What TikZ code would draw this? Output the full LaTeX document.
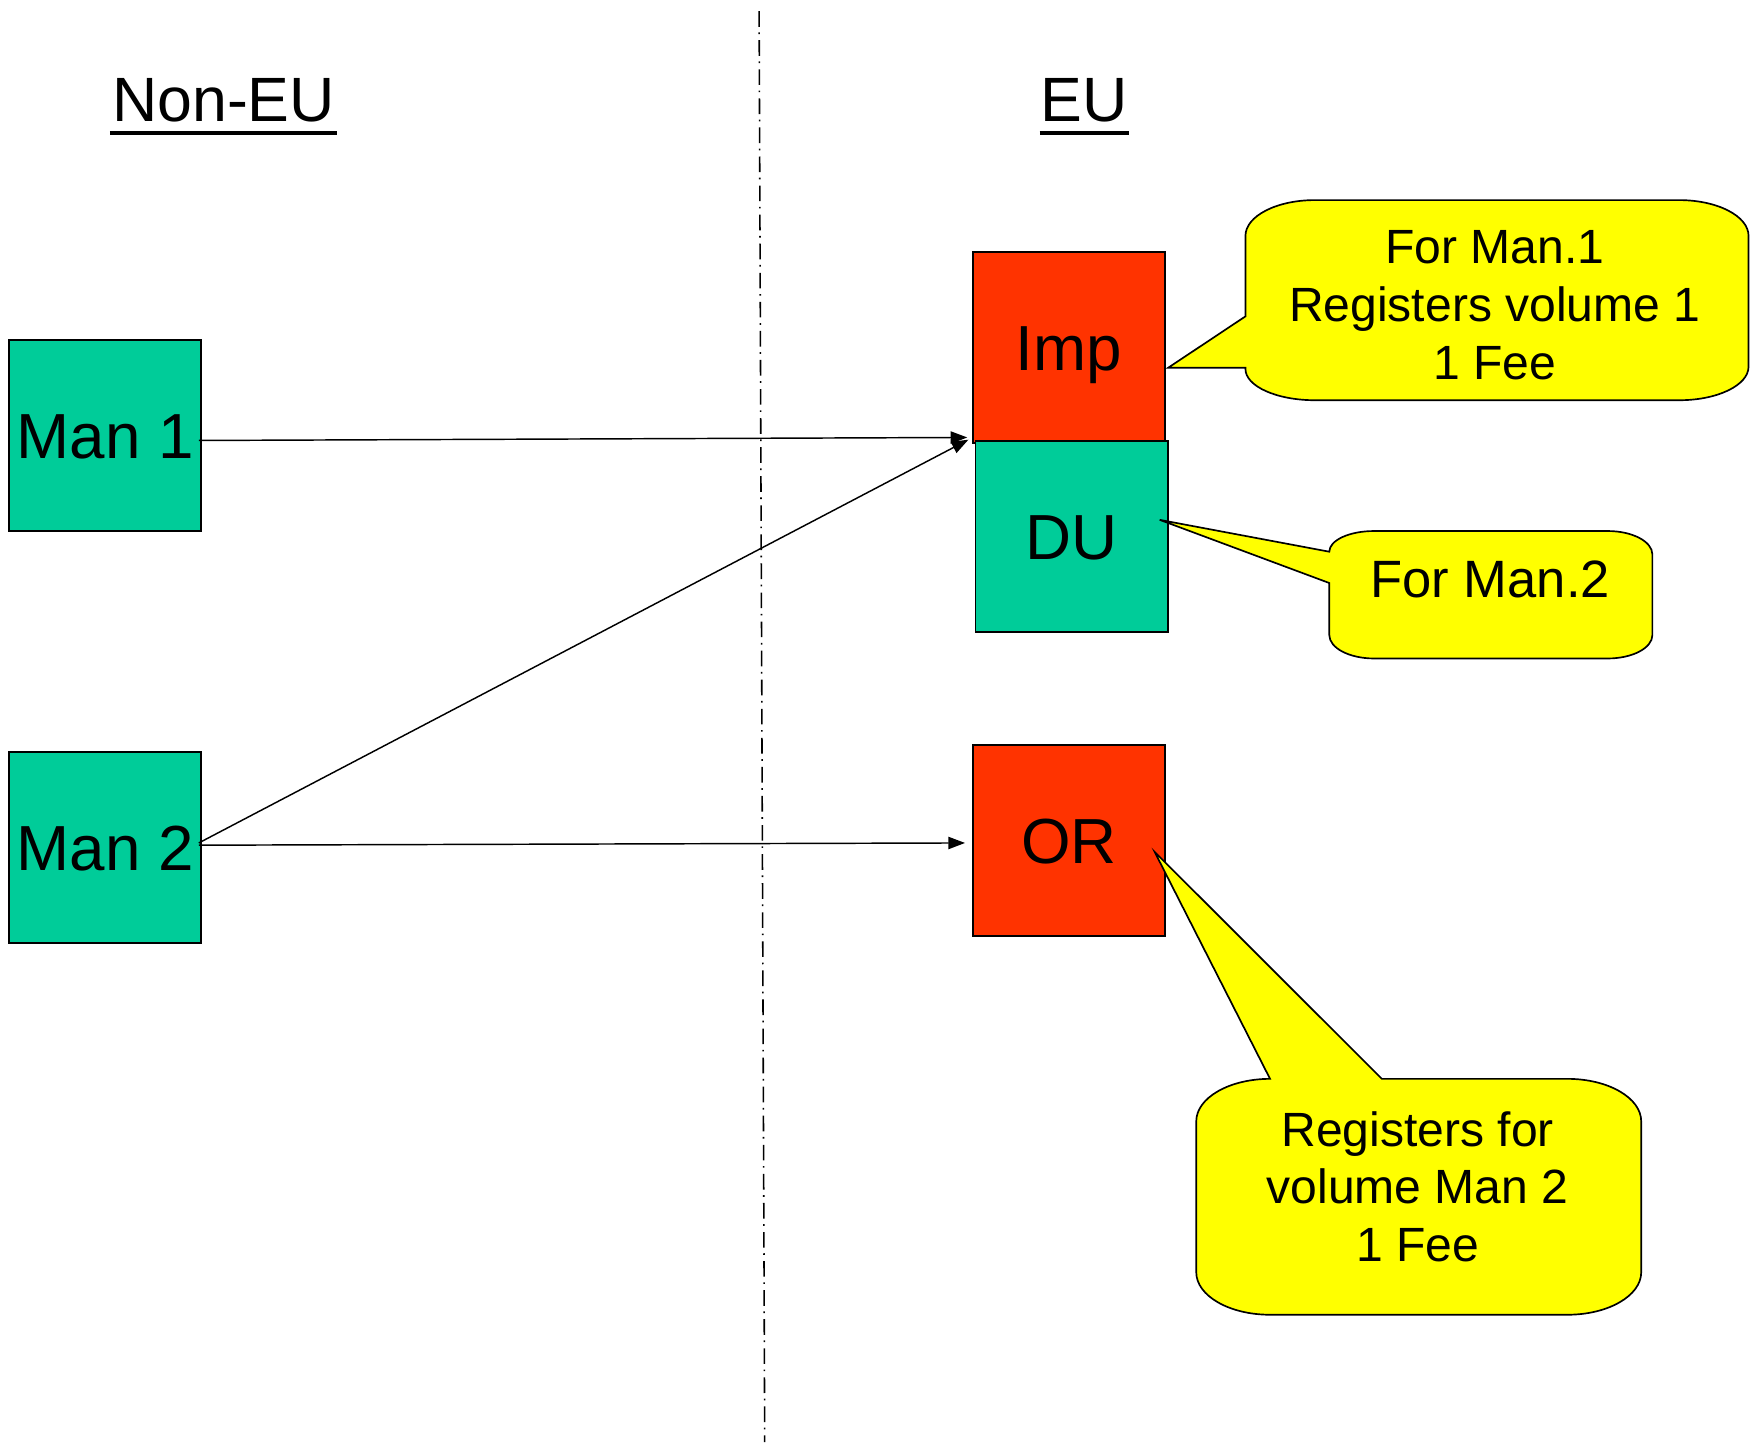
\documentclass[tikz,border=0pt]{standalone}
\usepackage{fontspec}
\setmainfont{Liberation Sans}
\usetikzlibrary{arrows.meta,calc}
\definecolor{tealfill}{HTML}{00CC99}
\definecolor{redfill}{HTML}{FF3300}
\definecolor{yelfill}{HTML}{FFFF00}
\begin{document}
\begin{tikzpicture}[x=1pt,y=1pt,
  box/.style={draw=black,line width=1.6pt,minimum width=172pt,minimum height=171pt,inner sep=0pt,
    font=\fontsize{57}{70}\selectfont,text height=41pt,text depth=0pt},
  manbox/.style={box,fill=tealfill},
  redbox/.style={box,fill=redfill},
  head/.style={inner sep=0pt,font=\fontsize{56}{67}\selectfont,anchor=base},
  uline/.style={line width=3.5pt},
  conn/.style={line width=1.3pt,-{Triangle[length=15pt,width=11pt]}},
  callout/.style={draw=black,line width=1.5pt,fill=yelfill,line join=miter},
  ctext/.style={font=\fontsize{43}{51.5}\selectfont,align=center,inner sep=0pt},
  divider/.style={line width=1.4pt,dash pattern=on 14pt off 5pt on 1.5pt off 5.5pt}]
\useasboundingbox (0,0) rectangle (1568,1293);
\fill[white] (0,0) rectangle (1568,1293);

% divider
\coordinate (dtop) at (679,1283);
\coordinate (dbot) at (684,3);
\draw[divider] (dtop) -- (dbot);

% headers
\node[head] (noneu) at (200,1184) {Non-EU};
\node[head] (eu) at (970,1184) {EU};
\draw[uline] ($(noneu.base west)+(-2,-10)$) -- ($(noneu.base east)+(2,-10)$);
\draw[uline] ($(eu.base west)+(-1,-10)$) -- ($(eu.base east)+(1,-10)$);

% boxes
\node[manbox] (man1) at (94,903.5) {Man 1};
\node[manbox] (man2) at (94,535) {Man 2};
\node[redbox] (imp) at (956,982) {Imp};
\node[manbox] (du) at (958.5,813) {DU};
\node[redbox] (or) at (956,541) {OR};

% connectors
\draw[conn] ($(man1.east)+(-3,-4.5)$) -- ($(imp.south west)+(-4,6)$);
\draw[conn] ($(man2.east)+(-3,4)$) -- ($(imp.south west)+(-3,4)$);
\draw[conn] ($(man2.east)+(-3,2)$) -- ($(or.west)+(-6,-2)$);

% callout 1
\coordinate (tip1) at ($(imp.east)+(2,-18)$);
\draw[callout] (1114,1010) -- (tip1) -- (1114,964)
  -- (1114,963) arc[start angle=180,end angle=270,x radius=62,y radius=28]
  -- (1502,935) arc[start angle=270,end angle=360,x radius=62,y radius=30]
  -- (1564,1082) arc[start angle=0,end angle=90,x radius=62,y radius=32]
  -- (1176,1114) arc[start angle=90,end angle=180,x radius=62,y radius=32]
  -- cycle;
\node[ctext] (c1) at (1337,1020) {For Man.1\\Registers volume 1\\1 Fee};

% callout 2
\coordinate (tip2) at ($(du.east)+(-8,15)$);
\draw[callout] (1189,799.5) -- (tip2) -- (1189,771.5)
  -- (1189,725) arc[start angle=180,end angle=270,x radius=40,y radius=21]
  -- (1438,704) arc[start angle=270,end angle=360,x radius=40,y radius=21]
  -- (1478,797) arc[start angle=0,end angle=90,x radius=40,y radius=21]
  -- (1229,818) arc[start angle=90,end angle=180,x radius=40,y radius=18.5]
  -- cycle;
\node[ctext,font=\fontsize{47}{56}\selectfont,text height=33.6pt,text depth=0pt] (c2) at (1333,775) {For Man.2};

% callout 3
\coordinate (tip3) at ($(or.east)+(-10,-10)$);
\draw[callout] (1136,328) -- (tip3) -- (1236,328)
  -- (1402,328) arc[start angle=90,end angle=0,x radius=66,y radius=38]
  -- (1468,155) arc[start angle=0,end angle=-90,x radius=66,y radius=38]
  -- (1136,117) arc[start angle=-90,end angle=-180,x radius=66,y radius=38]
  -- (1070,290) arc[start angle=180,end angle=90,x radius=66,y radius=38]
  -- cycle;
\node[ctext] (c3) at (1268,231.5) {Registers for\\volume Man 2\\1 Fee};
\end{tikzpicture}
\end{document}
